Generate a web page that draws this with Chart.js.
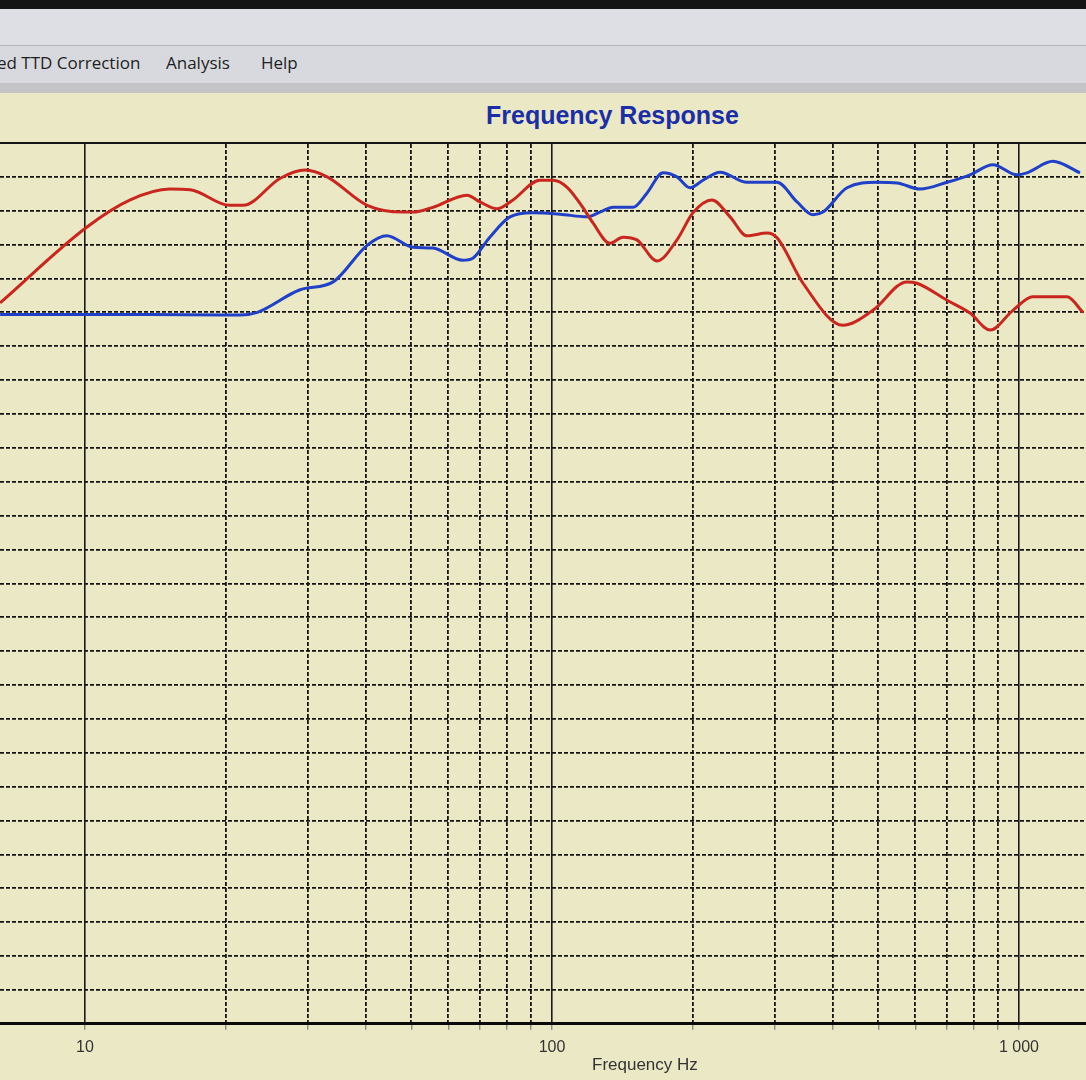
<!DOCTYPE html>
<html>
<head>
<meta charset="utf-8">
<script src="https://cdn.jsdelivr.net/npm/chart.js@4.4.1/dist/chart.umd.min.js"></script>
<style>
  html, body { margin: 0; padding: 0; }
  body {
    width: 1086px; height: 1080px; position: relative; overflow: hidden;
    background: #ebe9c5; font-family: "Liberation Sans", Arial, sans-serif;
  }
  .topbar { position: absolute; left: 0; top: 0; width: 100%; height: 9px; background: #141414; }
  .band { position: absolute; left: 0; top: 9px; width: 100%; height: 36px; background: #dedfe4; border-bottom: 1px solid #b5b5ba; }
  .menu { position: absolute; left: 0; top: 46px; width: 100%; height: 37px; background: #d8d9de; }
  .menu span { position: absolute; top: 5px; font-family: "Open Sans", sans-serif; font-size: 17px; color: #1e1e22; }
  .strip { position: absolute; left: 0; top: 83px; width: 100%; height: 10px; background: #c4c4c7; }
  #title {
    position: absolute; left: 486px; top: 101px; font-size: 25px; font-weight: bold;
    color: #1b2ea6; white-space: nowrap;
  }
  #xtitle { position: absolute; left: 592px; top: 1055px; font-size: 17px; color: #333; white-space: nowrap; }
  #wrap { position: absolute; left: 0; top: 93px; width: 1086px; height: 987px; }
</style>
</head>
<body>
<div class="topbar"></div>
<div class="band"></div>
<div class="menu">
  <span style="left:-3px">ed TTD Correction</span>
  <span style="left:166px">Analysis</span>
  <span style="left:261px">Help</span>
</div>
<div class="strip"></div>
<div id="title">Frequency Response</div>
<div id="wrap"><canvas id="fr"></canvas></div>
<div id="xtitle">Frequency Hz</div>
<script>
// frequency axis (Hz)
const xMin = 6.577;
const xMax = 1391.6;
const tickValues = [10, 100, 1000];
const tickLabels = ['10', '100', '1 000'];
const minorFreqs = [20, 30, 40, 50, 60, 70, 80, 90, 200, 300, 400, 500, 600, 700, 800, 900];

// level axis (dB, unlabeled in the picture)
const yMin = -30;
const yMax = 100;
const yStep = 5;

// red trace
const redFreq = [6.58, 10.1, 12.5, 15.2, 16.8, 20.4, 21.8, 26.2, 29.6, 33.0, 40.2, 48.0, 50.4, 55.6,
  65.8, 70.1, 76.2, 82.5, 94.2, 100.5, 107.6, 116.4, 122.4, 133.1, 141.9, 152.0, 167.9, 185.2,
  200.4, 220.1, 240.6, 261.5, 288.7, 303.3, 344.8, 419.8, 486.5, 575.3, 604.6, 701.3, 785.6,
  867.3, 970.8, 1071, 1267, 1371];
const redLevel = [76.4, 87.6, 91.6, 93.2, 93.1, 90.8, 90.8, 94.8, 96.0, 95.0, 90.8, 89.8, 89.8, 90.5,
  92.3, 91.3, 90.3, 91.6, 94.5, 94.5, 93.5, 90.5, 88.2, 85.2, 86.1, 85.7, 82.6, 85.7,
  89.7, 91.6, 89.1, 86.3, 86.7, 86.0, 79.3, 73.1, 75.3, 79.5, 79.3, 76.8, 74.9,
  72.4, 75.3, 77.3, 77.3, 75.0];

// blue trace
const blueFreq = [6.58, 13.8, 19.9, 21.5, 23.4, 28.8, 34.0, 40.2, 44.3, 50.4, 55.6, 64.4, 67.7, 73.6,
  81.3, 91.0, 104.0, 118.8, 126.7, 135.2, 149.0, 159.7, 172.9, 185.2, 197.5, 210.5, 229.0,
  261.5, 303.3, 334.8, 362.3, 380.4, 428.3, 496.6, 548.3, 614.2, 701.3, 785.6, 879.5, 990.0,
  1040, 1182, 1351];
const blueLevel = [74.7, 74.7, 74.6, 74.6, 75.0, 78.3, 79.5, 84.9, 86.3, 84.6, 84.5, 82.7, 83.0, 86.1,
  89.1, 89.7, 89.5, 89.1, 89.8, 90.5, 90.5, 92.6, 95.6, 95.0, 93.4, 94.5, 95.7,
  94.2, 94.2, 91.3, 89.4, 89.8, 93.4, 94.2, 94.1, 93.2, 94.2, 95.3, 96.8, 95.3,
  95.6, 97.3, 95.6];

const toPoints = (xs, ys) => xs.map((x, i) => ({ x, y: ys[i] }));
const allGrid = [...tickValues, ...minorFreqs].sort((a, b) => a - b);

new Chart(document.getElementById('fr'), {
  type: 'line',
  data: {
    datasets: [
      {
        label: 'Red',
        data: toPoints(redFreq, redLevel),
        borderColor: '#c9261f',
        borderWidth: 3,
        pointRadius: 0,
        cubicInterpolationMode: 'monotone',
        xAxisID: 'x'
      },
      {
        label: 'Blue',
        data: toPoints(blueFreq, blueLevel),
        borderColor: '#2140c8',
        borderWidth: 3,
        pointRadius: 0,
        cubicInterpolationMode: 'monotone',
        xAxisID: 'x'
      }
    ]
  },
  options: {
    responsive: true,
    maintainAspectRatio: false,
    animation: false,
    layout: { padding: { top: 50, left: 0, right: 0, bottom: 15 } },
    plugins: { legend: { display: false }, title: { display: false }, tooltip: { enabled: false } },
    scales: {
      x: {
        type: 'logarithmic',
        position: 'bottom',
        min: xMin,
        max: xMax,
        afterBuildTicks: s => { s.ticks = allGrid.map(v => ({ value: v })); },
        ticks: {
          autoSkip: false,
          maxRotation: 0,
          padding: 8,
          color: '#333',
          font: { family: '"Liberation Sans", Arial, sans-serif', size: 16 },
          callback: v => {
            const i = tickValues.indexOf(v);
            return i >= 0 ? tickLabels[i] : '';
          }
        },
        grid: {
          color: c => tickValues.includes(c.tick && c.tick.value) ? '#1a1a1a' : 'rgba(0,0,0,0)',
          lineWidth: 1.6,
          tickColor: '#666',
          tickLength: 6,
          tickWidth: 1
        },
        border: { color: '#0a0a0a', width: 3 }
      },
      xMinor: {
        type: 'logarithmic',
        position: 'top',
        min: xMin,
        max: xMax,
        afterBuildTicks: s => { s.ticks = minorFreqs.map(v => ({ value: v })); },
        ticks: { display: false },
        grid: { color: '#141414', lineWidth: 1.8, drawTicks: false },
        border: { color: '#141414', width: 2, dash: [4, 2] }
      },
      y: {
        min: yMin,
        max: yMax,
        ticks: { display: false, stepSize: yStep },
        grid: { color: '#141414', lineWidth: 1.8, drawTicks: false },
        border: { display: false, dash: [4, 2] }
      }
    }
  }
});
</script>
</body>
</html>
